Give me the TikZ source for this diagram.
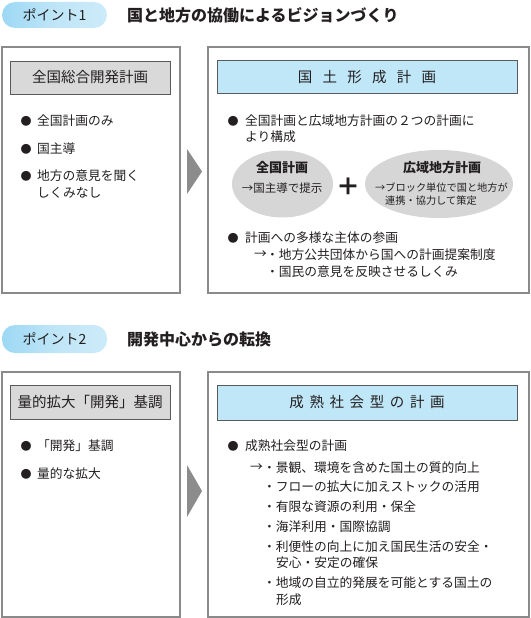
\documentclass[tikz,border=0pt]{standalone}
\usepackage{fontspec}
\setmainfont{Noto Sans CJK JP}
\usetikzlibrary{shapes.geometric}
\definecolor{txt}{HTML}{231F20}
\definecolor{boxgray}{HTML}{8A8A8A}
\definecolor{hdrline}{HTML}{5A5A5A}
\definecolor{hdrgray}{HTML}{D9D9D9}
\definecolor{hdrblue}{HTML}{BFE7F8}
\definecolor{ovalgray}{HTML}{D6D6D6}
\definecolor{trigray}{HTML}{8C8C8C}
\definecolor{pillA}{HTML}{9DD8F4}
\definecolor{pillB}{HTML}{CDEBF9}
\newcommand{\gapA}{\hspace{10.3pt}}
\newcommand{\gapB}{\hspace{5.6pt}}
\begin{document}
\begin{tikzpicture}[x=1pt,y=-1pt,
  outerbox/.style={draw=boxgray,line width=1.2pt,fill=white},
  hdrbox/.style={draw=hdrline,line width=0.8pt},
  hdrtext/.style={inner sep=0,text=txt,font=\fontsize{14.5}{17}\selectfont},
  body/.style={anchor=west,inner sep=0,text=txt,font=\fontsize{12.75}{15}\selectfont},
  small/.style={anchor=west,inner sep=0,text=txt,font=\fontsize{10.2}{12}\selectfont},
  bul/.style={inner sep=0,text=txt,font=\fontsize{11}{12}\selectfont},
  oval/.style={ellipse,fill=ovalgray,draw=none,inner sep=0},
  pill/.style={rounded corners=13pt,left color=pillA,right color=pillB,middle color=pillB!70!pillA,draw=none},
  pilltext/.style={inner sep=0,text=txt,font=\fontsize{14}{16}\selectfont},
  title/.style={anchor=west,inner sep=0,text=txt,font=\fontsize{16}{19}\selectfont\bfseries},
  tri/.style={fill=trigray,draw=none}
]
\useasboundingbox (0,0) rectangle (530,618);

% ===== Section 1 =====
\path[pill] (2,2) rectangle (107,28);
\node[pilltext] (p1) at (54.5,15) {ポイント1};
\node[title] (t1) at (127,15) {国と地方の協働によるビジョンづくり};

\draw[outerbox] (2,47) rectangle (180,293);
\draw[hdrbox,fill=hdrgray] (10,61) rectangle (170,94);
\node[hdrtext] (h1) at (90,77.5) {全国総合開発計画};
\node[bul] (b11) at (26,121) {●};
\node[body] (l11) at (37,121) {全国計画のみ};
\node[bul] (b12) at (26,149) {●};
\node[body] (l12) at (37,149) {国主導};
\node[bul] (b13) at (26,176) {●};
\node[body] (l13) at (37,176) {地方の意見を聞く};
\node[body] (l14) at (37,193) {しくみなし};

\fill[tri] (187,149) -- (202,171.5) -- (187,194) -- cycle;

\draw[outerbox] (208,47) rectangle (529,293);
\draw[hdrbox,fill=hdrblue] (217,60) rectangle (517,93);
\node[hdrtext] (h2) at (367,77) {国\gapA 土\gapA 形\gapA 成\gapA 計\gapA 画};
\node[bul] (b21) at (233,121) {●};
\node[body] (r11) at (245,121) {全国計画と広域地方計画の２つの計画に};
\node[body] (r12) at (245,137) {より構成};

\node[oval,minimum width=101pt,minimum height=67pt] (e1) at (282.5,184) {};
\node[inner sep=0,text=txt,font=\fontsize{13}{15}\selectfont\bfseries] (e1t) at (282,168) {全国計画};
\node[inner sep=0,text=txt,font=\fontsize{11.5}{13}\selectfont] (e1s) at (282,188) {→国主導で提示};

\node[inner sep=0,text=txt,font=\fontsize{24}{26}\selectfont\bfseries] (plus) at (348,187) {＋};

\node[oval,minimum width=148pt,minimum height=68pt] (e2) at (439,184) {};
\node[inner sep=0,text=txt,font=\fontsize{13}{15}\selectfont\bfseries] (e2t) at (442,168) {広域地方計画};
\node[small] (e2s1) at (375,188) {→ブロック単位で国と地方が};
\node[small] (e2s2) at (385,201) {連携・協力して策定};

\node[bul] (b22) at (233,238) {●};
\node[body] (r21) at (245,238) {計画への多様な主体の参画};
\node[body] (ar1) at (254,255) {→};
\node[body] (r22) at (266,255) {・地方公共団体から国への計画提案制度};
\node[body] (r23) at (266,272) {・国民の意見を反映させるしくみ};

% ===== Section 2 =====
\path[pill] (2,325) rectangle (107,353);
\node[pilltext] (p2) at (54.5,339) {ポイント2};
\node[title] (t2) at (127,339) {開発中心からの転換};

\draw[outerbox] (2,372) rectangle (180,617);
\draw[hdrbox,fill=hdrgray] (10,385) rectangle (170,419);
\node[hdrtext] (h3) at (90,402) {量的拡大「開発」基調};
\node[bul] (b31) at (26,446) {●};
\node[body] (l31) at (37,446) {「開発」基調};
\node[bul] (b32) at (26,474) {●};
\node[body] (l32) at (37,474) {量的な拡大};

\fill[tri] (187,465) -- (202,491) -- (187,517) -- cycle;

\draw[outerbox] (208,372) rectangle (529,617);
\draw[hdrbox,fill=hdrblue] (217,385) rectangle (517,420);
\node[hdrtext] (h4) at (367,402.5) {成\gapB 熟\gapB 社\gapB 会\gapB 型\gapB の\gapB 計\gapB 画};
\node[bul] (b41) at (233,446) {●};
\node[body] (r41) at (245,446) {成熟社会型の計画};
\node[body] (ar2) at (250,468) {→};
\node[body] (r42) at (263,468) {・景観、環境を含めた国土の質的向上};
\node[body] (r43) at (263,487) {・フローの拡大に加えストックの活用};
\node[body] (r44) at (263,507) {・有限な資源の利用・保全};
\node[body] (r45) at (263,527) {・海洋利用・国際協調};
\node[body] (r46) at (263,547) {・利便性の向上に加え国民生活の安全・};
\node[body] (r47) at (276,563) {安心・安定の確保};
\node[body] (r48) at (263,583) {・地域の自立的発展を可能とする国土の};
\node[body] (r49) at (276,600) {形成};
\end{tikzpicture}
\end{document}
